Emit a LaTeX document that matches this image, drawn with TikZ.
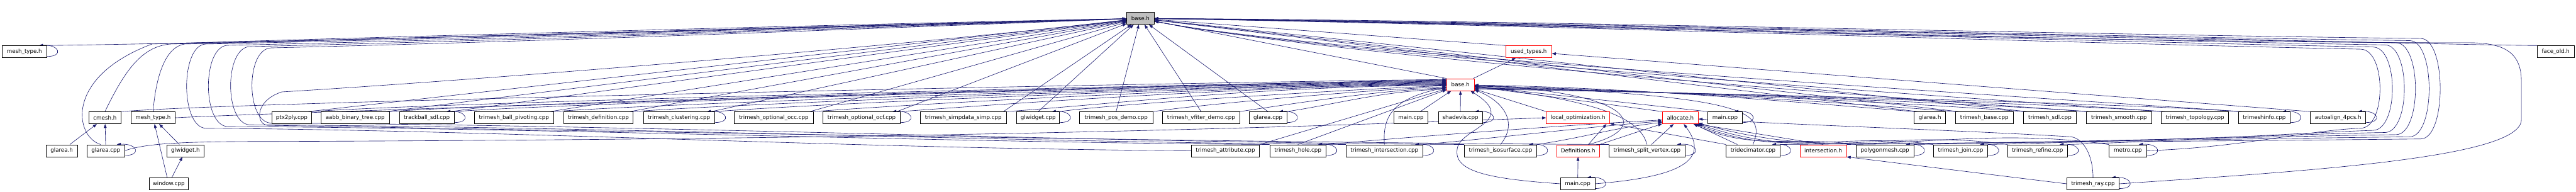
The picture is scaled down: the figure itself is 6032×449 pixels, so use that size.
\documentclass[tikz,border=0pt]{standalone}
\usepackage{fontspec}
\setmainfont{DejaVu Sans}
\usetikzlibrary{arrows.meta,backgrounds}
\definecolor{navy}{HTML}{191970}
\definecolor{redb}{HTML}{FF0000}
\definecolor{grayf}{HTML}{BFBFBF}
\tikzset{
  fbox/.style={draw=black, line width=0.75pt, fill=white, minimum height=21pt, inner sep=0pt, font=\fontsize{9.6pt}{11pt}\selectfont},
  rbox/.style={fbox, draw=redb},
  gbox/.style={fbox, fill=grayf},
  conn/.style={draw=navy, line width=0.7pt, -{Triangle[length=7pt,width=5pt]}},
}
\newcommand\sloop[1]{\draw[conn] ([yshift=2.5pt]#1.south east) .. controls +(40,0) and +(48,3) .. ([xshift=-14pt]#1.north east);}
\begin{document}
\begin{tikzpicture}[x=0.75pt,y=0.75pt]
\useasboundingbox (0,0) rectangle (6032,-449);
% row 1
\node[gbox, minimum width=48.1pt] (base) at (2670.5,-43) {base.h};
% row 2
\node[fbox, minimum width=78.6pt] (mt1) at (57.1,-121) {mesh\_type.h};
\node[rbox, minimum width=80.5pt] (used) at (3579.6,-121) {used\_types.h};
\node[fbox, minimum width=65.3pt] (faceold) at (5984.5,-121) {face\_old.h};
% row 3
\node[rbox, minimum width=48.4pt] (rbase) at (3419.8,-198) {base.h};
% row 4
\node[fbox, minimum width=57.2pt] (cmesh) at (245.8,-275.5) {cmesh.h};
\node[fbox, minimum width=78pt] (mt2) at (358.4,-275.5) {mesh\_type.h};
\node[fbox, minimum width=69.4pt] (ptx) at (683.1,-275.5) {ptx2ply.cpp};
\node[fbox, minimum width=120.5pt] (aabb) at (831.7,-275.5) {aabb\_binary\_tree.cpp};
\node[fbox, minimum width=96.1pt] (tsdl) at (999.4,-275.5) {trackball\_sdl.cpp};
\node[fbox, minimum width=138.3pt] (tbp) at (1203.5,-275.5) {trimesh\_ball\_pivoting.cpp};
\node[fbox, minimum width=122.5pt] (tdef) at (1401,-275.5) {trimesh\_definition.cpp};
\node[fbox, minimum width=125.2pt] (tclu) at (1589.9,-275.5) {trimesh\_clustering.cpp};
\node[fbox, minimum width=138.3pt] (tocc) at (1811.8,-275.5) {trimesh\_optional\_occ.cpp};
\node[fbox, minimum width=135.2pt] (tocf) at (2017.5,-275.5) {trimesh\_optional\_ocf.cpp};
\node[fbox, minimum width=152.1pt] (tsimp) at (2255.7,-275.5) {trimesh\_simpdata\_simp.cpp};
\node[fbox, minimum width=75.1pt] (glwcpp) at (2431,-275.5) {glwidget.cpp};
\node[fbox, minimum width=129.3pt] (tpos) at (2613.5,-275.5) {trimesh\_pos\_demo.cpp};
\node[fbox, minimum width=135.2pt] (tvf) at (2812.5,-275.5) {trimesh\_vfiter\_demo.cpp};
\node[fbox, minimum width=65.9pt] (glacpp2) at (2969,-275.5) {glarea.cpp};
\node[fbox, minimum width=60.2pt] (main1) at (3303.9,-275.5) {main.cpp};
\node[fbox, minimum width=78pt] (shade) at (3419.7,-275.5) {shadevis.cpp};
\node[rbox, minimum width=111.2pt] (locopt) at (3695.1,-275.5) {local\_optimization.h};
\node[rbox, minimum width=63.2pt] (alloc) at (3934.7,-275.5) {allocate.h};
\node[fbox, minimum width=60.2pt] (main2) at (4039.5,-275.5) {main.cpp};
\node[fbox, minimum width=55.2pt] (glah2) at (4519.1,-275.5) {glarea.h};
\node[fbox, minimum width=102.3pt] (tbase) at (4646.6,-275.5) {trimesh\_base.cpp};
\node[fbox, minimum width=92pt] (tsdl2) at (4800,-275.5) {trimesh\_sdl.cpp};
\node[fbox, minimum width=115.4pt] (tsmooth) at (4961.9,-275.5) {trimesh\_smooth.cpp};
\node[fbox, minimum width=118pt] (ttopo) at (5139.7,-275.5) {trimesh\_topology.cpp};
\node[fbox, minimum width=90.2pt] (tinfo) at (5302.2,-275.5) {trimeshinfo.cpp};
\node[fbox, minimum width=97.1pt] (autoal) at (5474.8,-275.5) {autoalign\_4pcs.h};
% row 5
\node[fbox, minimum width=54.8pt] (glah1) at (144.5,-352.5) {glarea.h};
\node[fbox, minimum width=66.2pt] (glacpp1) at (247.7,-352.5) {glarea.cpp};
\node[fbox, minimum width=64.4pt] (glwh) at (434.4,-352.5) {glwidget.h};
\node[fbox, minimum width=119.8pt] (tattr) at (2869.4,-352.5) {trimesh\_attribute.cpp};
\node[fbox, minimum width=98.6pt] (thole) at (3039,-352.5) {trimesh\_hole.cpp};
\node[fbox, minimum width=134.9pt] (tinter) at (3241.8,-352.5) {trimesh\_intersection.cpp};
\node[fbox, minimum width=127pt] (tiso) at (3513.7,-352.5) {trimesh\_isosurface.cpp};
\node[rbox, minimum width=74.7pt] (defs) at (3695.3,-352.5) {Definitions.h};
\node[fbox, minimum width=132.9pt] (tsplit) at (3856.6,-352.5) {trimesh\_split\_vertex.cpp};
\node[fbox, minimum width=94.4pt] (tdec) at (4104.9,-352.5) {tridecimator.cpp};
\node[rbox, minimum width=81.6pt] (inters) at (4269.4,-352.5) {intersection.h};
\node[fbox, minimum width=101.1pt] (poly) at (4413.7,-352.5) {polygonmesh.cpp};
\node[fbox, minimum width=95.5pt] (tjoin) at (4591,-352.5) {trimesh\_join.cpp};
\node[fbox, minimum width=105pt] (tref) at (4771,-352.5) {trimesh\_refine.cpp};
\node[fbox, minimum width=66.2pt] (metro) at (4982.5,-352.5) {metro.cpp};
% row 6
\node[fbox, minimum width=69.1pt] (win) at (394.9,-430) {window.cpp};
\node[fbox, minimum width=60.2pt] (main3) at (3694.3,-430) {main.cpp};
\node[fbox, minimum width=92.3pt] (tray) at (4901,-430) {trimesh\_ray.cpp};

\begin{pgfonlayer}{background}
\fill[white] (0,0) rectangle (6032,-449);
% left cluster
\draw[conn] (glah1) -- (cmesh);
\draw[conn] (glacpp1) -- (cmesh);
\draw[conn] (glwh) -- (mt2);
\draw[conn] (win) -- (mt2);
\draw[conn] (win) -- (glwh);
\draw[conn] (mt1.north east) .. controls (700,-98) and (2000,-62) .. (base);
\draw[conn] (cmesh.north) .. controls (290,-170) and (330,-108) .. (400,-103) .. controls (1100,-85) and (2100,-58) .. (base);
\draw[conn] (mt2.north) .. controls (366,-170) and (390,-110) .. (432,-103) .. controls (1150,-85) and (2100,-56) .. (base);
\draw[conn] ([xshift=-9pt]glacpp1.north) .. controls (175,-320) and (150,-180) .. (356,-103) .. controls (1050,-82) and (2100,-54) .. (base);
\draw[conn] (cmesh.north east) .. controls +(300,25) and +(-450,-4) .. ([yshift=9pt]rbase.west);
\draw[conn] (mt2.east) .. controls +(160,10) and +(-450,-4) .. ([yshift=8pt]rbase.west);
\draw[conn] (glacpp1.east) .. controls (340,-336) and (420,-331) .. (620,-331) .. controls (2400,-325) and (3200,-290) .. (locopt.west);
% row 4 left to base / red base
\foreach \nn/\oo in {ptx/7, aabb/6, tsdl/5, tbp/4, tdef/3, tclu/2, tocc/1, tocf/0, tsimp/-1} {
  \draw[conn] ([xshift=-6pt]\nn.north east) -- (base);
  \draw[conn] (\nn.north east) .. controls +(300,22) and +(-450,-4) .. ([yshift=\oo pt]rbase.west);
}
\foreach \nn/\oo in {glwcpp/-2, tpos/-4, tvf/-6, glacpp2/-8} {
  \draw[conn] (\nn.north) -- (base);
  \draw[conn] (\nn.north east) .. controls +(120,18) and +(-150,-4) .. ([yshift=\oo pt]rbase.west);
}
% row 4 right
\foreach \nn/\oo in {glah2/-1, tbase/-3, tsdl2/-5, tsmooth/-6, ttopo/-7, tinfo/-8} {
  \draw[conn] (\nn.north west) .. controls +(-250,20) and +(350,-4) .. ([yshift=\oo pt]rbase.east);
}
\foreach \nn in {glah2, tbase, tsdl2} {
  \draw[conn] ([xshift=6pt]\nn.north west) -- (base);
}
\foreach \nn in {tsmooth, ttopo, tinfo} {
  \draw[conn] ([xshift=6pt]\nn.north west) .. controls +(-600,40) and +(400,-80) .. (base);
}
\draw[conn] (main2.north west) -- (rbase);
\draw[conn] (alloc.north west) -- (rbase);
\draw[conn] (locopt.north west) -- (rbase);
\draw[conn] (main1) -- (rbase);
\draw[conn] (shade) -- (rbase);
\draw[conn] (rbase) -- (used);
\draw[conn] (rbase.north west) -- (base);
\draw[conn] (used.north west) -- (base);
\draw[conn] (autoal.north west) -- (used);
\draw[conn] (faceold.north west) .. controls (5700,-105) and (4500,-70) .. (base);
% row 5 to red base
\draw[conn] (tattr.north east) -- (rbase);
\draw[conn] (thole.north) -- (rbase);
\draw[conn] (tinter.north) .. controls (3236,-265) and (3270,-228) .. (rbase);
\draw[conn] (tiso.north) .. controls (3560,-280) and (3510,-232) .. (rbase);
\draw[conn] ([xshift=18pt]defs.north) .. controls (3870,-300) and (3830,-215) .. (rbase);
\draw[conn] (tsplit.north) .. controls (3840,-275) and (3740,-235) .. (rbase);
\draw[conn] (tdec.north) .. controls (4135,-260) and (4100,-225) .. (rbase);
\draw[conn] (main3.west) .. controls (3480,-418) and (3405,-400) .. (3412,-350) .. controls (3415,-300) and (3560,-285) .. (rbase);
% local optimization / allocate / intersection
\draw[conn] ([xshift=18pt]defs.north) -- ([xshift=-6pt]locopt.south east);
\draw[conn] (tdec.north west) -- (locopt);
\draw[conn] (defs.north east) -- (alloc);
\draw[conn] ([xshift=8pt]tsplit.north) -- (alloc);
\draw[conn] ([xshift=20pt]tdec.north west) -- (alloc);
\draw[conn] (main3.east) .. controls (3920,-415) and (4010,-380) .. ([xshift=6pt]alloc.south);
\draw[conn] (main3) -- (defs);
\draw[conn] (thole.north east) .. controls +(200,18) and +(-200,-10) .. ([yshift=-4pt]alloc.west);
\draw[conn] (tinter.north east) .. controls +(200,18) and +(-160,-12) .. ([yshift=-6pt]alloc.west);
\draw[conn] (tiso.north east) .. controls +(120,18) and +(-120,-14) .. ([yshift=-8pt]alloc.west);
\draw[conn] (inters.north) -- ([xshift=-3pt]alloc.south east);
\foreach \nn/\aa in {poly/-25, tjoin/-22, tref/-19, metro/-16} {
  \draw[conn] (\nn.north west) to[out=172,in=\aa] (alloc);
}
\draw[conn] (tray.west) -- (inters.south east);
\draw[conn] (tray.north) .. controls (4901,-365) and (4880,-325) .. (4850,-320) .. controls (4600,-305) and (4150,-290) .. (alloc);
% left loops to base
\draw[conn] (tattr.west) .. controls (2000,-348) and (1200,-305) .. (482,-300) .. controls (422,-298) and (422,-105) .. (482,-103) .. controls (1200,-88) and (2100,-58) .. (base);
\draw[conn] (thole.north west) .. controls (2200,-333) and (1300,-300) .. (533,-296) .. controls (473,-294) and (473,-108) .. (533,-106) .. controls (1250,-90) and (2100,-60) .. (base);
\draw[conn] (tinter.north west) .. controls (2400,-333) and (1400,-296) .. (585,-292) .. controls (525,-290) and (525,-111) .. (585,-109) .. controls (1300,-92) and (2100,-62) .. (base);
\draw[conn] (tiso.north west) .. controls (2600,-334) and (1500,-292) .. (635,-288) .. controls (575,-286) and (575,-114) .. (635,-112) .. controls (1350,-95) and (2100,-64) .. (base);
\draw[conn] (tsplit.north west) .. controls (3000,-335) and (1300,-305) .. (625,-293) .. controls (598,-288) and (598,-235) .. (660,-215) .. controls (1000,-195) and (2000,-120) .. (base);
% right loops to base
\draw[conn] (metro.east) .. controls (5250,-345) and (5400,-305) .. (5528,-300) .. controls (5588,-298) and (5588,-117) .. (5528,-115) .. controls (4800,-100) and (3600,-58) .. (base);
\draw[conn] (tref.north east) .. controls (5100,-330) and (5400,-310) .. (5557,-305) .. controls (5617,-303) and (5617,-112) .. (5557,-110) .. controls (4800,-95) and (3600,-56) .. (base);
\draw[conn] (tjoin.north east) .. controls (5000,-330) and (5400,-313) .. (5585,-310) .. controls (5645,-308) and (5645,-107) .. (5585,-105) .. controls (4800,-92) and (3600,-54) .. (base);
\draw[conn] (poly.north east) .. controls (4900,-330) and (5400,-318) .. (5611,-315) .. controls (5671,-313) and (5671,-102) .. (5611,-100) .. controls (4800,-88) and (3600,-52) .. (base);
\draw[conn] (inters.north east) .. controls (4800,-332) and (5400,-323) .. (5643,-320) .. controls (5703,-318) and (5703,-97) .. (5643,-95) .. controls (4800,-84) and (3600,-50) .. (base);
\draw[conn] (tdec.north east) .. controls (4700,-334) and (5400,-328) .. (5669,-325) .. controls (5729,-323) and (5729,-92) .. (5669,-90) .. controls (4800,-80) and (3600,-48) .. (base);
\draw[conn] (tray.east) .. controls (5400,-400) and (5904,-370) .. (5904,-280) -- (5904,-190) .. controls (5904,-120) and (5860,-100) .. (5780,-100) .. controls (4800,-100) and (3600,-55) .. (base);
% self loops
\foreach \nn in {mt1, glacpp1, tsdl, tclu, tocf, glwcpp, glacpp2, shade, main2, thole, tinter, tiso, tsplit, tdec, main3, poly, tjoin, tref, metro, tray, tinfo, autoal} {
  \sloop{\nn}
}
\end{pgfonlayer}
\end{tikzpicture}
\end{document}
